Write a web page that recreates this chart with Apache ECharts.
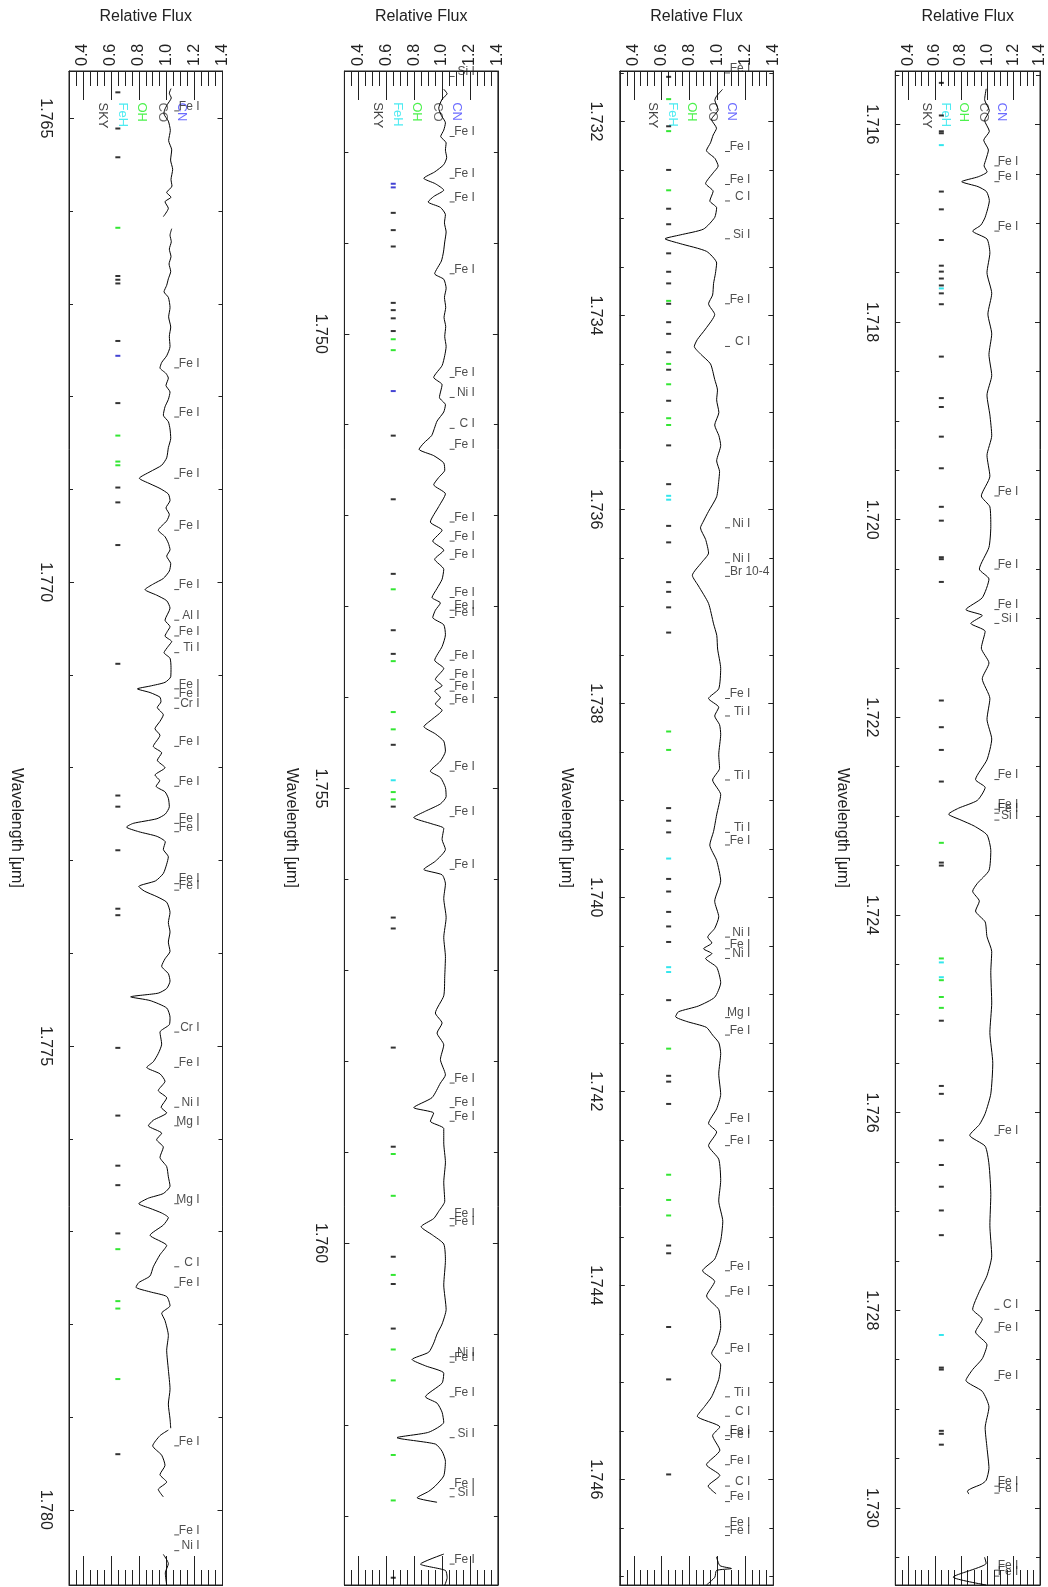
<!DOCTYPE html>
<html>
<head>
<meta charset="utf-8">
<script src="https://cdn.jsdelivr.net/npm/echarts@6/dist/echarts.min.js"></script>
<style>
html, body { margin: 0; padding: 0; background: #fff; }
#chart { width: 1048px; height: 1587px; }
</style>
</head>
<body>
<div id="chart"></div>
<script>
// ---- Spectrum segments: [wavelength (um), relative flux]; null breaks the trace ----
const spec1 = [
  [1.76468,1.031],[1.76473,1.019],[1.76478,1.033],[1.76485,1.005],[1.76491,0.985],[1.76495,0.980],[1.76503,1.012],
  [1.76513,1.026],[1.76524,1.014],[1.76534,1.036],[1.76545,1.028],[1.76555,1.043],[1.76566,1.031],[1.76573,1.038],
  [1.76580,1.000],[1.76585,1.031],[1.76590,0.988],[1.76597,1.012],[1.76606,0.976], null,
  [1.76619,1.036],[1.76626,1.024],[1.76633,1.033],[1.76641,1.019],[1.76649,1.031],[1.76657,1.017],[1.76665,1.029],
  [1.76673,1.012],[1.76680,1.000],[1.76687,0.981],[1.76693,1.012],[1.76704,1.024],[1.76714,1.014],[1.76725,1.029],
  [1.76735,1.019],[1.76746,1.024],[1.76756,1.000],[1.76763,0.965],[1.76769,0.952],[1.76775,0.995],[1.76780,1.012],
  [1.76788,0.995],[1.76795,1.024],[1.76803,1.012],[1.76811,0.988],[1.76820,0.976],[1.76827,1.012],[1.76835,1.024],
  [1.76845,1.029],[1.76855,1.012],[1.76866,1.000],[1.76874,0.964],[1.76881,0.881],[1.76888,0.804],[1.76894,0.881],
  [1.76899,0.952],[1.76905,1.012],[1.76912,1.024],[1.76920,0.995],[1.76927,1.019],[1.76934,1.000],[1.76944,0.940],
  [1.76951,0.988],[1.76958,1.012],[1.76965,1.024],[1.76972,1.000],[1.76980,1.029],[1.76988,1.019],[1.76996,0.976],
  [1.77002,0.904],[1.77008,0.845],[1.77014,0.928],[1.77020,1.000],[1.77028,1.024],[1.77041,0.988],[1.77048,1.024],
  [1.77053,1.005],[1.77058,0.988],[1.77064,1.036],[1.77069,1.012],[1.77076,0.981],[1.77082,1.024],[1.77092,1.031],
  [1.77102,1.029],[1.77108,0.988],[1.77112,0.881],[1.77115,0.790],[1.77119,0.881],[1.77124,0.952],[1.77129,0.959],
  [1.77135,0.933],[1.77143,0.976],[1.77150,0.952],[1.77158,0.916],[1.77165,0.952],[1.77177,0.904],[1.77184,0.964],
  [1.77192,0.933],[1.77200,0.988],[1.77208,0.916],[1.77214,0.950],[1.77220,0.924],[1.77226,0.988],[1.77233,1.012],
  [1.77242,1.019],[1.77250,0.990],[1.77255,0.930],[1.77260,0.760],[1.77264,0.712],[1.77269,0.800],[1.77274,0.930],
  [1.77280,0.990],[1.77288,0.976],[1.77296,1.012],[1.77304,1.000],[1.77314,0.976],[1.77322,0.920],[1.77328,0.800],
  [1.77333,0.840],[1.77339,0.930],[1.77345,1.000],[1.77356,1.024],[1.77367,1.012],[1.77377,1.024],[1.77388,1.012],
  [1.77398,1.024],[1.77406,0.988],[1.77414,0.964],[1.77422,1.012],[1.77430,1.024],[1.77438,1.000],[1.77443,0.940],
  [1.77447,0.742],[1.77451,0.881],[1.77459,1.000],[1.77469,1.024],[1.77477,1.019],[1.77485,0.952],[1.77498,0.964],
  [1.77508,0.940],[1.77517,0.904],[1.77523,0.857],[1.77530,0.952],[1.77538,0.988],[1.77548,0.940],[1.77556,1.000],
  [1.77566,0.960],[1.77572,1.000],[1.77580,0.904],[1.77586,0.869],[1.77594,0.964],[1.77601,0.928],[1.77609,0.976],
  [1.77620,0.952],[1.77630,1.000],[1.77641,1.012],[1.77651,1.024],[1.77659,0.976],[1.77664,0.869],[1.77670,0.800],
  [1.77675,0.881],[1.77680,0.964],[1.77685,1.012],[1.77693,0.976],[1.77704,0.881],[1.77715,1.000],[1.77725,0.952],
  [1.77738,0.904],[1.77748,0.880],[1.77755,0.800],[1.77760,0.780],[1.77765,0.881],[1.77770,1.000],[1.77780,1.024],
  [1.77788,0.964],[1.77796,0.988],[1.77812,1.012],[1.77828,1.000],[1.77849,1.012],[1.77870,1.024],[1.77886,1.012],
  [1.77902,1.024],[1.77912,1.029], null,
  [1.77914,1.012],[1.77920,0.952],[1.77931,0.900],[1.77941,0.964],[1.77952,0.988],[1.77962,0.952],[1.77970,1.000],
  [1.77978,0.940],[1.77986,0.976], null,
  [1.78048,0.976],[1.78058,1.012],[1.78068,0.990],[1.78081,1.000]
];
const spec2 = [
  [1.74731,1.012],[1.74736,1.036],[1.74742,1.000],[1.74752,0.976],[1.74760,0.995],[1.74768,1.024],[1.74776,1.012],
  [1.74783,0.990],[1.74790,1.029],[1.74798,1.024],[1.74806,1.033],[1.74814,1.012],[1.74822,0.947],[1.74829,0.869],
  [1.74835,0.952],[1.74842,1.012],[1.74849,0.940],[1.74855,0.900],[1.74861,0.988],[1.74869,1.024],[1.74878,1.017],
  [1.74888,1.029],[1.74899,1.019],[1.74910,1.010],[1.74920,0.995],[1.74934,0.947],[1.74940,1.012],[1.74950,1.029],
  [1.74960,1.017],[1.74971,1.026],[1.74982,1.014],[1.74992,1.026],[1.75003,1.019],[1.75014,1.029],[1.75024,1.019],
  [1.75035,1.000],[1.75048,0.940],[1.75056,1.000],[1.75070,0.981],[1.75078,1.024],[1.75086,1.012],[1.75096,0.964],
  [1.75104,0.945],[1.75112,0.925],[1.75120,0.870],[1.75127,0.835],[1.75134,0.940],[1.75142,1.012],[1.75150,1.019],
  [1.75158,0.976],[1.75166,0.940],[1.75176,1.024],[1.75190,0.976],[1.75207,0.916],[1.75216,1.000],[1.75228,0.933],
  [1.75238,1.012],[1.75248,0.947],[1.75259,1.012],[1.75270,1.000],[1.75280,0.964],[1.75290,0.928],[1.75296,0.988],
  [1.75304,0.952],[1.75312,0.933],[1.75320,1.012],[1.75331,1.024],[1.75344,1.000],[1.75359,0.947],[1.75368,1.012],
  [1.75380,0.952],[1.75387,1.000],[1.75393,0.947],[1.75400,0.988],[1.75407,0.952],[1.75414,1.000],[1.75424,0.928],
  [1.75432,0.870],[1.75440,0.952],[1.75448,1.012],[1.75459,1.024],[1.75470,0.988],[1.75481,0.916],[1.75488,0.988],
  [1.75499,1.024],[1.75509,1.029],[1.75517,0.988],[1.75525,0.881],[1.75532,0.797],[1.75539,0.928],[1.75544,1.012],
  [1.75556,1.000],[1.75567,1.024],[1.75580,0.952],[1.75589,0.869],[1.75595,1.000],[1.75605,1.024],[1.75621,1.012],
  [1.75642,1.029],[1.75664,1.012],[1.75685,1.024],[1.75707,1.019],[1.75728,1.012],[1.75747,0.952],[1.75758,1.000],
  [1.75769,0.964],[1.75782,1.012],[1.75798,0.988],[1.75815,1.024],[1.75824,0.988],[1.75840,0.928],[1.75851,0.797],
  [1.75857,0.940],[1.75866,0.916],[1.75874,1.012],[1.75890,1.012],[1.75911,1.024],[1.75933,1.012],[1.75954,1.019],
  [1.75965,0.976],[1.75973,0.940],[1.75982,0.850],[1.75991,0.930],[1.76001,1.012],[1.76019,1.024],[1.76046,1.012],
  [1.76073,1.029],[1.76089,1.000],[1.76100,0.964],[1.76110,0.940],[1.76120,0.904],[1.76128,0.785],[1.76135,0.881],
  [1.76143,1.012],[1.76154,1.000],[1.76169,0.881],[1.76176,0.964],[1.76186,1.000],[1.76197,1.012],[1.76208,0.904],
  [1.76214,0.677],[1.76221,0.952],[1.76229,1.000],[1.76240,1.024],[1.76256,1.012],[1.76267,0.952],[1.76273,0.904],
  [1.76280,0.821],[1.76285,0.964], null,
  [1.76342,1.012],[1.76353,0.845],[1.76360,1.024],[1.76368,1.036],[1.76379,1.012]
];
const spec3 = [
  [1.73167,1.036],[1.73174,0.993],[1.73178,0.981],[1.73188,1.005],[1.73198,0.957],[1.73207,0.993],[1.73214,0.969],
  [1.73222,0.950],[1.73230,0.921],[1.73238,0.981],[1.73246,1.005],[1.73253,0.969],[1.73264,0.915],[1.73272,0.969],
  [1.73282,0.945],[1.73289,0.994],[1.73299,0.980],[1.73311,0.900],[1.73317,0.733],[1.73321,0.624],[1.73326,0.733],
  [1.73334,0.922],[1.73346,0.994],[1.73357,0.985],[1.73367,0.972],[1.73379,0.965],[1.73388,0.936],[1.73399,0.980],
  [1.73414,0.914],[1.73425,0.855],[1.73432,0.834],[1.73440,0.880],[1.73450,0.950],[1.73466,0.980],[1.73477,1.000],
  [1.73487,0.994],[1.73500,1.010],[1.73513,0.980],[1.73524,1.010],[1.73534,1.023],[1.73550,0.994],[1.73561,1.015],
  [1.73571,1.009],[1.73587,0.994],[1.73602,0.936],[1.73612,0.900],[1.73619,0.878],[1.73631,0.915],[1.73645,0.936],
  [1.73655,0.885],[1.73668,0.820],[1.73679,0.864],[1.73697,0.936],[1.73718,0.972],[1.73730,0.995],[1.73744,1.001],
  [1.73764,1.023],[1.73785,1.009],[1.73795,0.936],[1.73804,1.009],[1.73813,0.980],[1.73822,1.015],[1.73832,1.023],
  [1.73853,1.009],[1.73867,1.015],[1.73879,0.965],[1.73894,1.023],[1.73915,0.994],[1.73932,0.972],[1.73946,0.945],
  [1.73962,0.994],[1.73983,1.023],[1.74004,0.980],[1.74020,1.009],[1.74032,0.980],[1.74041,0.930],[1.74047,0.960],
  [1.74053,0.900],[1.74058,0.960],[1.74063,0.915],[1.74072,0.994],[1.74088,1.023],[1.74103,0.980],[1.74112,0.864],
  [1.74118,0.720],[1.74123,0.700],[1.74128,0.780],[1.74134,0.920],[1.74142,0.965],[1.74150,1.010],[1.74161,1.023],
  [1.74182,1.009],[1.74203,1.023],[1.74218,0.994],[1.74233,0.936],[1.74242,0.994],[1.74256,0.936],[1.74270,1.009],
  [1.74292,1.023],[1.74313,1.009],[1.74334,1.038],[1.74354,1.023],[1.74373,0.980],[1.74385,0.893],[1.74396,0.980],
  [1.74411,0.922],[1.74425,1.009],[1.74443,1.023],[1.74460,0.994],[1.74470,0.958],[1.74482,1.023],[1.74497,1.009],
  [1.74515,0.958],[1.74525,0.907],[1.74535,0.855],[1.74546,1.017],[1.74555,0.965],[1.74570,1.017],[1.74585,0.921],
  [1.74596,1.017],[1.74607,0.933],[1.74615,0.990], null,
  [1.74680,0.993],[1.74689,1.017],[1.74692,1.100],[1.74694,0.993],[1.74701,0.981],[1.74709,0.921]
];
const spec4 = [
  [1.71564,0.991],[1.71575,0.979],[1.71586,1.015],[1.71596,0.979],[1.71607,1.015],[1.71616,0.972],[1.71626,1.008],
  [1.71635,0.990],[1.71642,0.975],[1.71648,0.998],[1.71653,0.931],[1.71658,0.805],[1.71663,0.929],[1.71668,0.993],
  [1.71677,1.015],[1.71694,0.983],[1.71702,0.950],[1.71708,0.888],[1.71716,0.997],[1.71730,1.019],[1.71750,0.997],
  [1.71771,1.033],[1.71792,1.004],[1.71812,1.033],[1.71833,1.012],[1.71854,1.033],[1.71874,0.997],[1.71894,1.019],
  [1.71915,1.033],[1.71935,0.997],[1.71956,1.019],[1.71976,0.954],[1.71987,1.019],[1.72007,1.026],[1.72028,1.012],
  [1.72050,0.939],[1.72060,1.012],[1.72079,0.961],[1.72091,0.837],[1.72097,0.961],[1.72105,0.874],[1.72113,0.983],
  [1.72130,0.954],[1.72145,1.012],[1.72161,0.961],[1.72181,1.019],[1.72202,0.997],[1.72222,1.033],[1.72243,0.997],
  [1.72263,0.910],[1.72271,0.983],[1.72284,0.924],[1.72292,0.780],[1.72298,0.705],[1.72304,0.800],[1.72310,0.900],
  [1.72319,0.997],[1.72335,1.026],[1.72355,1.012],[1.72368,0.924],[1.72376,0.888],[1.72386,0.939],[1.72396,0.910],
  [1.72407,0.983],[1.72422,0.997],[1.72437,1.033],[1.72458,1.026],[1.72489,1.033],[1.72519,1.019],[1.72550,1.041],
  [1.72581,1.026],[1.72601,0.983],[1.72612,0.940],[1.72623,0.866],[1.72634,0.983],[1.72652,1.012],[1.72683,1.026],
  [1.72714,1.019],[1.72745,1.033],[1.72765,0.997],[1.72781,0.939],[1.72799,0.888],[1.72809,0.961],[1.72822,0.910],
  [1.72835,0.997],[1.72849,0.961],[1.72860,0.888],[1.72871,0.837],[1.72882,0.961],[1.72898,1.012],[1.72919,0.983],
  [1.72939,0.997],[1.72960,1.012],[1.72972,0.991],[1.72976,0.955],[1.72980,0.883],[1.72983,0.848],[1.72986,0.859], null,
  [1.73050,0.979],[1.73056,0.991],[1.73070,0.740],[1.73078,0.991]
];

// ---- Identification marks: [wavelength, source]  k = sky, g = OH, c = FeH, b = CN ----
const marks1 = [
  [1.76472,'k'],[1.76511,'k'],[1.76542,'k'],[1.76618,'g'],[1.76670,'k'],[1.76674,'k'],[1.76678,'k'],[1.76740,'k'],
  [1.76756,'b'],[1.76807,'k'],[1.76842,'g'],[1.76870,'g'],[1.76874,'g'],[1.76898,'k'],[1.76914,'k'],[1.76960,'k'],
  [1.77088,'k'],[1.77230,'k'],[1.77242,'k'],[1.77289,'k'],[1.77352,'k'],[1.77359,'k'],[1.77502,'k'],[1.77575,'k'],
  [1.77629,'k'],[1.77650,'k'],[1.77702,'k'],[1.77719,'g'],[1.77775,'g'],[1.77783,'g'],[1.77859,'g'],[1.77940,'k']
];
const marks2 = [
  [1.74835,'b'],[1.74839,'b'],[1.74867,'k'],[1.74886,'k'],[1.74904,'k'],[1.74966,'k'],[1.74974,'k'],[1.74983,'k'],
  [1.74997,'k'],[1.75006,'g'],[1.75018,'g'],[1.75063,'b'],[1.75112,'k'],[1.75182,'k'],[1.75264,'k'],[1.75281,'g'],
  [1.75326,'k'],[1.75352,'k'],[1.75360,'g'],[1.75416,'g'],[1.75435,'g'],[1.75452,'k'],[1.75491,'c'],[1.75504,'g'],
  [1.75512,'g'],[1.75520,'k'],[1.75642,'k'],[1.75654,'k'],[1.75785,'k'],[1.75894,'k'],[1.75902,'g'],[1.75948,'g'],
  [1.76015,'k'],[1.76035,'g'],[1.76045,'k'],[1.76094,'k'],[1.76117,'g'],[1.76151,'g'],[1.76233,'g'],[1.76283,'g'],
  [1.76368,'k']
];
const marks3 = [
  [1.73154,'k'],[1.73177,'g'],[1.73205,'k'],[1.73210,'g'],[1.73250,'k'],[1.73271,'g'],[1.73290,'k'],[1.73306,'k'],
  [1.73336,'k'],[1.73355,'k'],[1.73367,'k'],[1.73385,'g'],[1.73388,'k'],[1.73407,'k'],[1.73419,'k'],[1.73438,'k'],
  [1.73450,'g'],[1.73456,'k'],[1.73471,'g'],[1.73488,'k'],[1.73506,'g'],[1.73513,'g'],[1.73534,'k'],[1.73574,'k'],
  [1.73586,'c'],[1.73590,'c'],[1.73617,'k'],[1.73634,'k'],[1.73675,'k'],[1.73685,'k'],[1.73701,'k'],[1.73727,'k'],
  [1.73829,'g'],[1.73848,'g'],[1.73908,'k'],[1.73921,'k'],[1.73933,'k'],[1.73960,'c'],[1.73981,'k'],[1.73994,'k'],
  [1.74015,'k'],[1.74030,'k'],[1.74046,'k'],[1.74072,'c'],[1.74077,'c'],[1.74106,'k'],[1.74156,'g'],[1.74184,'k'],
  [1.74190,'k'],[1.74213,'k'],[1.74286,'g'],[1.74312,'g'],[1.74328,'g'],[1.74359,'k'],[1.74367,'k'],[1.74443,'k'],
  [1.74497,'k'],[1.74595,'k']
];
const marks4 = [
  [1.71558,'k'],[1.71591,'k'],[1.71607,'k'],[1.71609,'k'],[1.71621,'c'],[1.71668,'k'],[1.71686,'k'],[1.71717,'k'],
  [1.71743,'k'],[1.71749,'k'],[1.71756,'k'],[1.71763,'k'],[1.71766,'c'],[1.71771,'k'],[1.71782,'k'],[1.71835,'k'],
  [1.71877,'k'],[1.71886,'k'],[1.71916,'k'],[1.71948,'k'],[1.71987,'k'],[1.72001,'k'],[1.72038,'k'],[1.72040,'k'],
  [1.72063,'k'],[1.72183,'k'],[1.72210,'k'],[1.72233,'k'],[1.72265,'k'],[1.72327,'g'],[1.72347,'k'],[1.72350,'k'],
  [1.72444,'g'],[1.72448,'c'],[1.72463,'c'],[1.72466,'g'],[1.72483,'g'],[1.72494,'g'],[1.72507,'k'],[1.72573,'k'],
  [1.72581,'k'],[1.72628,'k'],[1.72653,'k'],[1.72675,'k'],[1.72699,'k'],[1.72724,'k'],[1.72825,'c'],[1.72858,'k'],
  [1.72860,'k'],[1.72922,'k'],[1.72925,'k'],[1.72936,'k']
];

// ---- Atomic line identifications: [wavelength, label] ----
const lines1 = [
  [1.76492,'Fe I'],[1.76769,'Fe I'],[1.76822,'Fe I'],[1.76888,'Fe I'],[1.76944,'Fe I'],[1.77008,'Fe I'],
  [1.77041,'Al I'],[1.77058,'Fe I'],[1.77076,'Ti I'],[1.77115,'Fe I'],[1.77125,'Fe I'],[1.77136,'Cr I'],
  [1.77177,'Fe I'],[1.77220,'Fe I'],[1.77260,'Fe I'],[1.77269,'Fe I'],[1.77325,'Fe I'],[1.77332,'Fe I'],
  [1.77485,'Cr I'],[1.77523,'Fe I'],[1.77566,'Ni I'],[1.77586,'Mg I'],[1.77670,'Mg I'],[1.77738,'C I'],
  [1.77760,'Fe I'],[1.77931,'Fe I'],[1.78027,'Fe I'],[1.78044,'Ni I']
];
const lines2 = [
  [1.74717,'Si I'],[1.74783,'Fe I'],[1.74829,'Fe I'],[1.74855,'Fe I'],[1.74934,'Fe I'],[1.75048,'Fe I'],
  [1.75070,'Ni I'],[1.75104,'C I'],[1.75127,'Fe I'],[1.75207,'Fe I'],[1.75228,'Fe I'],[1.75248,'Fe I'],
  [1.75290,'Fe I'],[1.75304,'Fe I'],[1.75312,'Fe I'],[1.75359,'Fe I'],[1.75380,'Fe I'],[1.75393,'Fe I'],
  [1.75407,'Fe I'],[1.75481,'Fe I'],[1.75531,'Fe I'],[1.75589,'Fe I'],[1.75824,'Fe I'],[1.75851,'Fe I'],
  [1.75866,'Fe I'],[1.75973,'Fe I'],[1.75981,'Fe I'],[1.76125,'Ni I'],[1.76131,'Fe I'],[1.76169,'Fe I'],
  [1.76214,'Si I'],[1.76270,'Fe I'],[1.76279,'Si I'],[1.76353,'Fe I']
];
const lines3 = [
  [1.73150,'Fe I'],[1.73231,'Fe I'],[1.73265,'Fe I'],[1.73282,'C I'],[1.73321,'Si I'],[1.73388,'Fe I'],
  [1.73432,'C I'],[1.73619,'Ni I'],[1.73655,'Ni I'],[1.73795,'Fe I'],[1.73813,'Ti I'],[1.73879,'Ti I'],
  [1.73933,'Ti I'],[1.73946,'Fe I'],[1.74041,'Ni I'],[1.74053,'Fe I'],[1.74063,'Ni I'],[1.74124,'Mg I'],
  [1.74142,'Fe I'],[1.74233,'Fe I'],[1.74256,'Fe I'],[1.74385,'Fe I'],[1.74411,'Fe I'],[1.74470,'Fe I'],
  [1.74515,'Ti I'],[1.74535,'C I'],[1.74555,'Fe I'],[1.74559,'Fe I'],[1.74585,'Fe I'],[1.74607,'C I'],
  [1.74623,'Fe I'],[1.74649,'Fe I'],[1.74658,'Fe I']
];
const lines4 = [
  [1.71642,'Fe I'],[1.71658,'Fe I'],[1.71708,'Fe I'],[1.71976,'Fe I'],[1.72050,'Fe I'],[1.72091,'Fe I'],
  [1.72105,'Si I'],[1.72263,'Fe I'],[1.72293,'Fe I'],[1.72297,'Fe I'],[1.72304,'Si I'],[1.72623,'Fe I'],
  [1.72799,'C I'],[1.72822,'Fe I'],[1.72871,'Fe I'],[1.72978,'Fe I'],[1.72985,'Fe I'],[1.73063,'Fe I'],
  [1.73069,'Fe I']
];
// hydrogen lines (labelled left-aligned after the tick)
const hLines3 = [[1.73669,'Br 10-4']];

// ---- Molecule / sky key at the head of each panel ----
const speciesNames = ['SKY', 'FeH', 'OH', 'CO', 'CN'];
const speciesFlux = [0.542, 0.685, 0.821, 0.972, 1.108];
const speciesTop = [1.764835, 1.747458, 1.731807, 1.715784];

// ---- Layout / style ----
const FONT = '"Liberation Sans", Arial, Helvetica, sans-serif';
const INK = '#222';
const TXT = '#222';
const MARK_FLUX = 0.65, DASH_FLUX = 1.072, LABEL_FLUX = 1.239, HLABEL_FLUX = 1.094;
const markColors = { k: '#000000', g: '#00e000', c: '#00e0e8', b: '#1414c8' };
const speciesColors = ['#111111', '#22e6ee', '#22ee22', '#444444', '#4646ff'];

const panels = [
  { left: 69,    range: [1.76449, 1.78081], step: 0.005, minor: 5, spec: spec1, marks: marks1, lines: lines1, hlines: [] },
  { left: 344.4, range: [1.74711, 1.76376], step: 0.005, minor: 5, spec: spec2, marks: marks2, lines: lines2, hlines: [] },
  { left: 619.8, range: [1.73148, 1.74709], step: 0.002, minor: 4, spec: spec3, marks: marks3, lines: lines3, hlines: hLines3 },
  { left: 895.3, range: [1.71546, 1.73078], step: 0.002, minor: 4, spec: spec4, marks: marks4, lines: lines4, hlines: [] }
];
const GRID_TOP = 71, GRID_H = 1514, GRID_W = 153.5;

const grid = [], xAxis = [], yAxis = [], series = [];

function fluxAxis(gi, pos, withLabels) {
  return {
    type: 'value', gridIndex: gi, position: pos, min: 0.3, max: 1.4,
    minInterval: 0.2, maxInterval: 0.2,
    axisLine: { show: true, onZero: false, lineStyle: { color: INK, width: 1 } },
    axisTick: { show: true, inside: true, length: 29, lineStyle: { color: INK, width: 1 } },
    minorTick: { show: true, splitNumber: 4, length: 15, lineStyle: { color: INK, width: 1 } },
    splitLine: { show: false }, minorSplitLine: { show: false },
    axisLabel: withLabels ? {
      show: true, rotate: -90, margin: 5, fontSize: 16, color: TXT, fontFamily: FONT,
      showMinLabel: false, showMaxLabel: true, formatter: v => v.toFixed(1)
    } : { show: false },
    name: withLabels ? 'Relative Flux' : '', nameLocation: 'middle', nameGap: 46,
    nameTextStyle: { fontSize: 16, color: TXT, fontFamily: FONT }
  };
}

function waveAxis(gi, pos, p, withLabels) {
  return {
    type: 'value', gridIndex: gi, position: pos, inverse: true,
    min: p.range[0], max: p.range[1], minInterval: p.step, maxInterval: p.step,
    axisLine: { show: true, onZero: false, lineStyle: { color: INK, width: 1 } },
    axisTick: { show: true, inside: true, length: 5, lineStyle: { color: INK, width: 1 } },
    minorTick: { show: true, splitNumber: p.minor, length: 4, lineStyle: { color: INK, width: 1 } },
    splitLine: { show: false }, minorSplitLine: { show: false },
    axisLabel: withLabels ? {
      show: true, rotate: -90, margin: 16, fontSize: 16, color: TXT, fontFamily: FONT,
      showMinLabel: false, showMaxLabel: false, formatter: v => v.toFixed(3)
    } : { show: false },
    name: withLabels ? 'Wavelength [μm]' : '', nameLocation: 'middle', nameGap: 45, nameRotate: -90,
    nameTextStyle: { fontSize: 16, color: TXT, fontFamily: FONT }
  };
}

panels.forEach((p, i) => {
  grid.push({ left: p.left, top: GRID_TOP, width: GRID_W, height: GRID_H, containLabel: false,
              show: true, borderColor: INK, borderWidth: 1, backgroundColor: 'transparent' });
  xAxis.push(fluxAxis(i, 'top', true), fluxAxis(i, 'bottom', false));
  yAxis.push(waveAxis(i, 'left', p, true), waveAxis(i, 'right', p, false));
  const xi = 2 * i, yi = 2 * i;

  // spectrum trace
  series.push({
    type: 'line', xAxisIndex: xi, yAxisIndex: yi, silent: true, z: 4,
    data: p.spec.map(s => s ? [s[1], s[0]] : ['-', '-']),
    showSymbol: false, symbol: 'none', smooth: 0.2, connectNulls: false, clip: true,
    lineStyle: { color: '#000', width: 1 }
  });

  // key labels SKY / FeH / OH / CO / CN
  series.push({
    type: 'scatter', xAxisIndex: xi, yAxisIndex: yi, silent: true, z: 2,
    symbol: 'circle', symbolSize: 1, itemStyle: { color: 'rgba(0,0,0,0)' },
    data: speciesNames.map((n, k) => ({
      value: [speciesFlux[k], speciesTop[i]], name: n,
      label: { color: speciesColors[k] }
    })),
    label: { show: true, position: [0, 0], rotate: -90, align: 'left', verticalAlign: 'middle',
             formatter: '{b}', fontSize: 13, fontFamily: FONT }
  });

  // sky / molecular identification ticks
  series.push({
    type: 'scatter', xAxisIndex: xi, yAxisIndex: yi, silent: true, z: 3,
    symbol: 'rect', symbolSize: [5, 2],
    data: p.marks.map(m => ({ value: [MARK_FLUX, m[0]], itemStyle: { color: markColors[m[1]] } }))
  });

  // atomic line ticks
  series.push({
    type: 'scatter', xAxisIndex: xi, yAxisIndex: yi, silent: true, z: 3,
    symbol: 'rect', symbolSize: [5, 1], itemStyle: { color: INK },
    data: p.lines.concat(p.hlines).map(l => [DASH_FLUX, l[0]])
  });

  // atomic line names
  series.push({
    type: 'scatter', xAxisIndex: xi, yAxisIndex: yi, silent: true, z: 3,
    symbol: 'circle', symbolSize: 1, itemStyle: { color: 'rgba(0,0,0,0)' },
    data: p.lines.map(l => ({ value: [LABEL_FLUX, l[0]], name: l[1] })),
    label: { show: true, position: [0, 0], align: 'right', verticalAlign: 'bottom', offset: [0, 2],
             formatter: '{b}', fontSize: 12, color: TXT, fontFamily: FONT }
  });

  if (p.hlines.length) {
    series.push({
      type: 'scatter', xAxisIndex: xi, yAxisIndex: yi, silent: true, z: 3,
      symbol: 'circle', symbolSize: 1, itemStyle: { color: 'rgba(0,0,0,0)' },
      data: p.hlines.map(l => ({ value: [HLABEL_FLUX, l[0]], name: l[1] })),
      label: { show: true, position: [0, 0], align: 'left', verticalAlign: 'bottom', offset: [0, 2],
               formatter: '{b}', fontSize: 12, color: TXT, fontFamily: FONT }
    });
  }
});

const chart = echarts.init(document.getElementById('chart'), null, { renderer: 'canvas' });
chart.setOption({
  animation: false,
  backgroundColor: '#ffffff',
  textStyle: { fontFamily: FONT },
  grid, xAxis, yAxis, series
});
</script>
</body>
</html>
